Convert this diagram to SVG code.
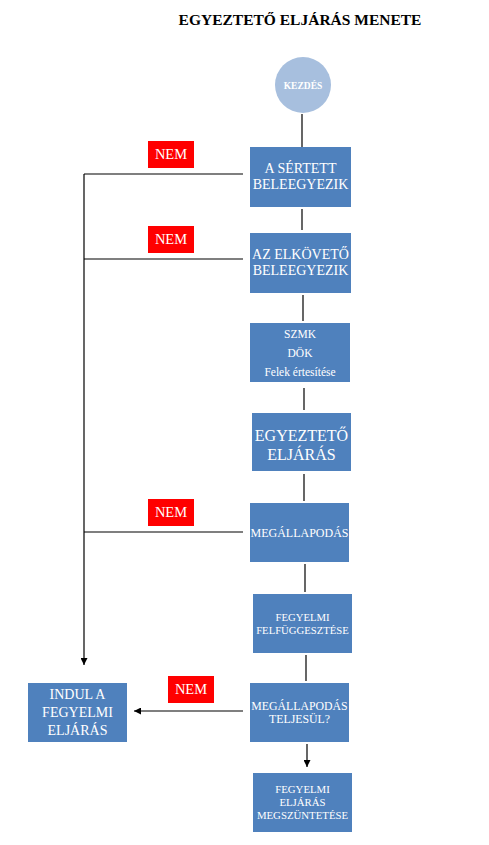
<svg xmlns="http://www.w3.org/2000/svg" width="489" height="845" viewBox="0 0 489 845">
<style>
.box{fill:#4f81bd}
.nem{fill:#ff0000}
.t{font-family:"Liberation Serif","Times New Roman",serif;fill:#ffffff;text-anchor:middle}
.ln{stroke:#000;stroke-width:1.2;fill:none}
</style>
<defs>
<marker id="ah" viewBox="0 0 10 10" refX="10" refY="5" markerWidth="7" markerHeight="7" markerUnits="userSpaceOnUse" orient="auto">
<path d="M0,0 L10,5 L0,10 z" fill="#000"/>
</marker>
</defs>
<rect width="489" height="845" fill="#ffffff"/>
<text x="300" y="25" font-family="'Liberation Serif','Times New Roman',serif" font-weight="bold" font-size="15.5" text-anchor="middle" fill="#000">EGYEZTETŐ ELJÁRÁS MENETE</text>

<g id="connectors">
<line class="ln" x1="302" y1="114" x2="302" y2="147"/>
<line class="ln" x1="302" y1="209" x2="302" y2="230"/>
<line class="ln" x1="303" y1="295" x2="303" y2="321"/>
<line class="ln" x1="304" y1="388" x2="304" y2="410"/>
<line class="ln" x1="304" y1="474" x2="304" y2="501"/>
<line class="ln" x1="305" y1="564" x2="305" y2="592"/>
<line class="ln" x1="306" y1="655" x2="306" y2="681"/>
<line class="ln" x1="84" y1="174" x2="243" y2="174"/>
<line class="ln" x1="84" y1="259" x2="243" y2="259"/>
<line class="ln" x1="84" y1="532" x2="243" y2="532"/>
<line class="ln" x1="84" y1="174" x2="84" y2="665" marker-end="url(#ah)"/>
<line class="ln" x1="243" y1="711" x2="134" y2="711" marker-end="url(#ah)"/>
<line class="ln" x1="307" y1="744" x2="307" y2="767" marker-end="url(#ah)"/>
</g>

<g id="start">
<circle cx="303" cy="85" r="28" fill="#a7bfde"/>
<text class="t" x="303" y="88.5" font-size="9.5" font-weight="bold">KEZDÉS</text>
</g>

<g id="sertett">
<rect class="box" x="250" y="147" width="101" height="60"/>
<text class="t" x="300.5" y="173" font-size="14">A SÉRTETT</text>
<text class="t" x="300.5" y="189" font-size="14">BELEEGYEZIK</text>
</g>
<g id="nem1">
<rect class="nem" x="148" y="141" width="46" height="27"/>
<text class="t" x="171" y="159" font-size="14.5">NEM</text>
</g>

<g id="elkoveto">
<rect class="box" x="250" y="233" width="101" height="60"/>
<text class="t" x="300.5" y="259" font-size="14">AZ ELKÖVETŐ</text>
<text class="t" x="300.5" y="275" font-size="14">BELEEGYEZIK</text>
</g>
<g id="nem2">
<rect class="nem" x="148" y="226" width="46" height="27"/>
<text class="t" x="171" y="244" font-size="14.5">NEM</text>
</g>

<g id="szmk">
<rect class="box" x="250" y="323" width="100" height="59"/>
<text class="t" x="300" y="338" font-size="11.5">SZMK</text>
<text class="t" x="300" y="357" font-size="11.5">DÖK</text>
<text class="t" x="300" y="376" font-size="11.5">Felek értesítése</text>
</g>

<g id="egyezteto">
<rect class="box" x="252" y="413" width="99" height="58"/>
<text class="t" x="301.5" y="441" font-size="16">EGYEZTETŐ</text>
<text class="t" x="301.5" y="460" font-size="16">ELJÁRÁS</text>
</g>

<g id="megallapodas">
<rect class="box" x="250" y="503" width="99" height="59"/>
<text class="t" x="299.5" y="537" font-size="12">MEGÁLLAPODÁS</text>
</g>
<g id="nem3">
<rect class="nem" x="148" y="499" width="46" height="27"/>
<text class="t" x="171" y="517" font-size="14.5">NEM</text>
</g>

<g id="felfuggesztes">
<rect class="box" x="253" y="594" width="99" height="59"/>
<text class="t" x="302.5" y="621" font-size="10.7">FEGYELMI</text>
<text class="t" x="302.5" y="634" font-size="10.7">FELFÜGGESZTÉSE</text>
</g>

<g id="teljesul">
<rect class="box" x="250" y="683" width="99" height="59"/>
<text class="t" x="299.5" y="710" font-size="11.8">MEGÁLLAPODÁS</text>
<text class="t" x="299.5" y="722.5" font-size="11.8">TELJESÜL?</text>
</g>
<g id="nem4">
<rect class="nem" x="168" y="676" width="46" height="27"/>
<text class="t" x="191" y="694" font-size="14.5">NEM</text>
</g>

<g id="indul">
<rect class="box" x="28" y="683" width="99" height="59"/>
<text class="t" x="77.5" y="699" font-size="14">INDUL A</text>
<text class="t" x="77.5" y="717" font-size="14">FEGYELMI</text>
<text class="t" x="77.5" y="734.5" font-size="14">ELJÁRÁS</text>
</g>

<g id="megszuntetes">
<rect class="box" x="253" y="773" width="99" height="59"/>
<text class="t" x="302.5" y="793" font-size="10.8">FEGYELMI</text>
<text class="t" x="302.5" y="806" font-size="10.8">ELJÁRÁS</text>
<text class="t" x="302.5" y="818.5" font-size="10.8">MEGSZÜNTETÉSE</text>
</g>
</svg>
